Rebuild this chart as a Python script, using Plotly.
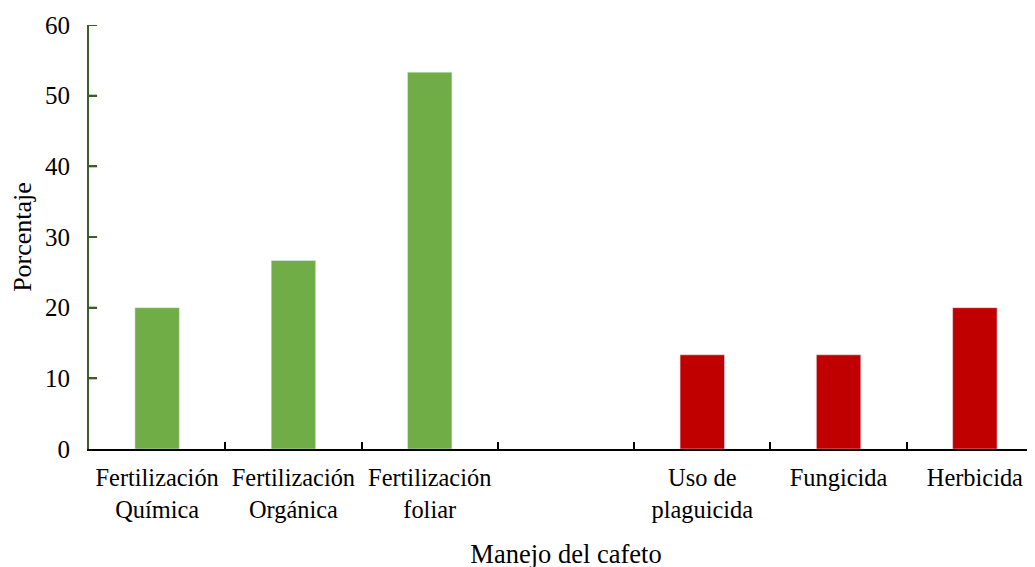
import plotly.graph_objects as go

categories = ["Fertilización<br>Química", "Fertilización<br>Orgánica", "Fertilización<br>foliar", " ",
              "Uso de<br>plaguicida", "Fungicida", "Herbicida"]
fert_cats = ["Fertilización<br>Química", "Fertilización<br>Orgánica", "Fertilización<br>foliar"]
fert_vals = [20.0, 26.67, 53.33]
plag_cats = ["Uso de<br>plaguicida", "Fungicida", "Herbicida"]
plag_vals = [13.33, 13.33, 20.0]
y_ticks = [0, 10, 20, 30, 40, 50, 60]

AXIS_GREEN = "#3B5E2B"
font = dict(family="Liberation Serif, Times New Roman, serif", size=24, color="black")

fig = go.Figure()
fig.add_trace(go.Bar(x=fert_cats, y=fert_vals, marker_color="#70AD47", width=0.326, showlegend=False))
fig.add_trace(go.Bar(x=plag_cats, y=plag_vals, marker_color="#C00000", width=0.326, showlegend=False))

# inward-pointing y-axis tick marks
for v in y_ticks[1:]:
    fig.add_shape(type="line", xref="x domain", yref="y", x0=0, x1=0.0085, y0=v, y1=v,
                  line=dict(color=AXIS_GREEN, width=2), layer="above")

fig.update_layout(
    width=1035, height=567,
    margin=dict(l=81, r=0, t=17, b=126),
    plot_bgcolor="white", paper_bgcolor="white",
    barmode="overlay",
    font=font,
)
fig.update_xaxes(
    type="category", categoryorder="array", categoryarray=categories,
    range=[-0.5, 6.5], automargin=False,
    showline=True, linecolor="black", linewidth=2,
    ticks="inside", tickson="boundaries", ticklen=7, tickcolor="black", tickwidth=1.5,
    showgrid=False, zeroline=False,
    ticklabelstandoff=6,
    title=dict(text="Manejo del cafeto", font=dict(size=26.5), standoff=22),
    tickfont=dict(size=24.4),
)
fig.update_yaxes(
    range=[0, 60], tickmode="array", tickvals=y_ticks, automargin=False,
    showline=True, linecolor=AXIS_GREEN, linewidth=2,
    ticks="inside", ticklen=8, tickcolor=AXIS_GREEN, tickwidth=2,
    showgrid=False, zeroline=False,
    ticklabelstandoff=12,
    title=dict(text="Porcentaje", font=dict(size=26), standoff=23),
    tickfont=dict(size=25),
)
fig.write_html("out.html")
